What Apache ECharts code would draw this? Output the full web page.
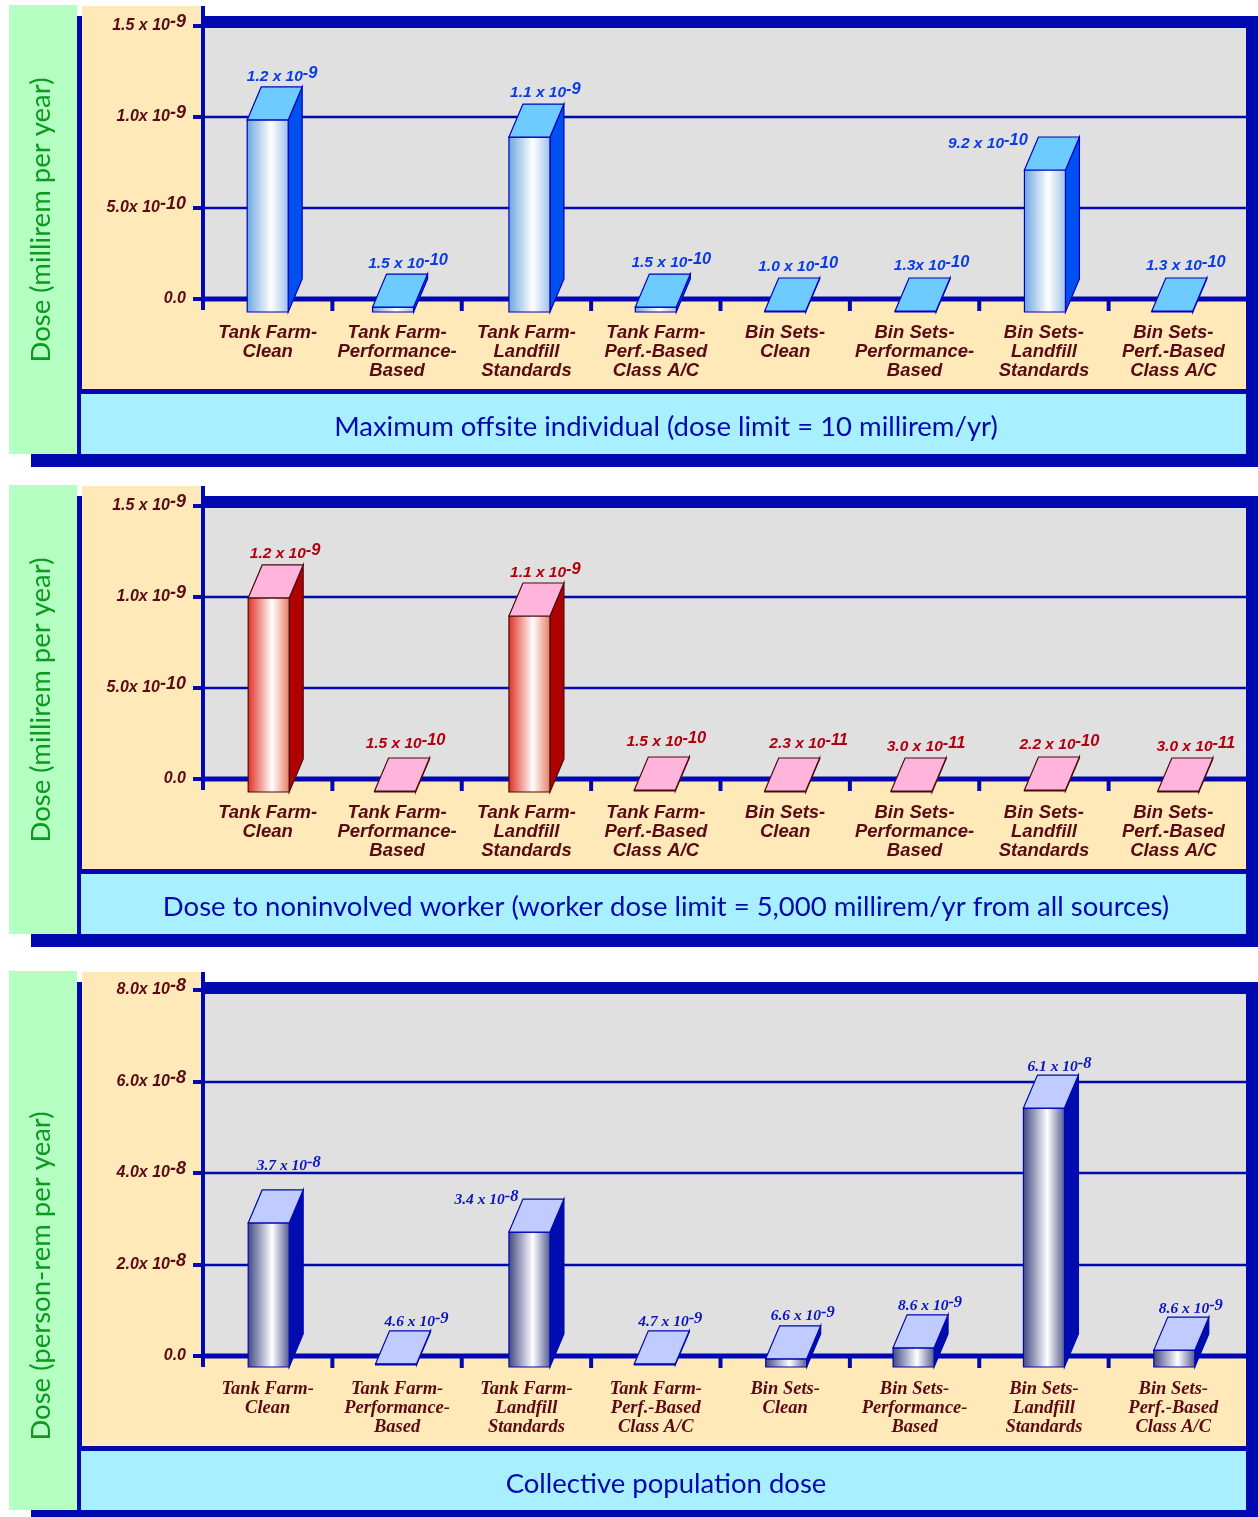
<!DOCTYPE html>
<html>
<head>
<meta charset="utf-8">
<style>
  html, body { margin: 0; padding: 0; background: #fff; }
  #chart { width: 1258px; height: 1517px; }
</style>
<script src="https://cdn.jsdelivr.net/npm/echarts@6/dist/echarts.min.js"></script>
</head>
<body>
<div id="chart"></div>
<script>
const categories = [
    'Tank Farm-\nClean', 'Tank Farm-\nPerformance-\nBased', 'Tank Farm-\nLandfill\nStandards', 'Tank Farm-\nPerf.-Based\nClass A/C',
    'Bin Sets-\nClean', 'Bin Sets-\nPerformance-\nBased', 'Bin Sets-\nLandfill\nStandards', 'Bin Sets-\nPerf.-Based\nClass A/C',
];

// bar heights as drawn, in axis units (1e-9, 1e-9, 1e-8)
const heights1 = [1.165, 0.137, 1.071, 0.137, 0.104, 0.115, 0.89, 0.115];
const heights2 = [1.176, 0.115, 1.077, 0.121, 0.115, 0.11, 0.121, 0.11];
const heights3 = [3.63, 0.55, 3.43, 0.55, 0.66, 0.9, 6.14, 0.85];

// printed value labels, ^ starts the exponent
const labels1 = ['1.2 x 10^-9', '1.5 x 10^-10', '1.1 x 10^-9', '1.5 x 10^-10', '1.0 x 10^-10', '1.3x 10^-10', '9.2 x 10^-10', '1.3 x 10^-10'];
const labels2 = ['1.2 x 10^-9', '1.5 x 10^-10', '1.1 x 10^-9', '1.5 x 10^-10', '2.3 x 10^-11', '3.0 x 10^-11', '2.2 x 10^-10', '3.0 x 10^-11'];
const labels3 = ['3.7 x 10^-8', '4.6 x 10^-9', '3.4 x 10^-8', '4.7 x 10^-9', '6.6 x 10^-9', '8.6 x 10^-9', '6.1 x 10^-8', '8.6 x 10^-9'];

const yTicks1 = ['0.0', '5.0x 10^-10', '1.0x 10^-9', '1.5 x 10^-9'];
const yTicks3 = ['0.0', '2.0x 10^-8', '4.0x 10^-8', '6.0x 10^-8', '8.0x 10^-8'];

const yName1 = 'Dose (millirem per year)';
const yName3 = 'Dose (person-rem per year)';
const title1 = 'Maximum offsite individual (dose limit = 10 millirem/yr)';
const title2 = 'Dose to noninvolved worker (worker dose limit = 5,000 millirem/yr from all sources)';
const title3 = 'Collective population dose';

const NAVY = '#0009b0';
const MAROON = '#5a0a12';
const SANS = '"Liberation Sans", Arial, sans-serif';
const SERIF = '"Liberation Serif", serif';
const HAND = 'Lato, "Noto Sans", sans-serif';

const panels = [
    {
        heights: heights1, labels: labels1, yTicks: yTicks1, yName: yName1, title: title1,
        top: 26, height: 273, max: 1.5, interval: 0.5, frameTop: 6, innerBottom: 394, bottom: 454, nameY: 220, titleY: 426,
        font: SANS, catSize: 18.5, valueSize: 15.5, valueColor: '#0a3ce6', drop: 13,
        shade: ['#6aa6e0', '#ffffff', '#9cc0ea'], topFill: '#6ecbff', sideFill: '#0050f0', edge: '#0000c0',
        nudge: [0, -4, 3, 0, 0, 1, 1, -1],
        labelDx: [14.5, 15, 16, 15.5, 13, 16, -57, 13.5],
        labelDy: [-13, -13, -14, -14, -14, -15, 4, -15],
    },
    {
        heights: heights2, labels: labels2, yTicks: yTicks1, yName: yName1, title: title2,
        top: 506, height: 273, max: 1.5, interval: 0.5, frameTop: 486, innerBottom: 874, bottom: 934, nameY: 700, titleY: 906,
        font: SANS, catSize: 18.5, valueSize: 15.5, valueColor: '#b00010', drop: 13,
        shade: ['#e02d20', '#ffffff', '#e67a60'], topFill: '#ffb4dc', sideFill: '#b00000', edge: '#4a0a10',
        nudge: [1, -2, 3, -1, 0, -3, 1, 5],
        labelDx: [16.5, 10.5, 16, 11.5, 23.5, 14.5, 14.5, 17.5],
        labelDy: [-14, -17, -13, -18, -17, -14, -15, -14],
    },
    {
        heights: heights3, labels: labels3, yTicks: yTicks3, yName: yName3, title: title3,
        top: 990, height: 366, max: 8, interval: 2, frameTop: 972, innerBottom: 1451, bottom: 1510, nameY: 1276, titleY: 1483,
        font: SERIF, catSize: 18.5, valueSize: 15.5, valueColor: '#0a14c0', drop: 11,
        shade: ['#3e4680', '#ffffff', '#50588f'], topFill: '#c0ccff', sideFill: '#000cb0', edge: '#0009b0',
        nudge: [1, -1, 3, -1, 1, -1, 0, 1],
        labelDx: [20, 20.5, -43, 15.5, 16.5, 16.5, 15.5, 16.5],
        labelDy: [-27, -12, -2, -12, -13, -12, -11, -11],
    },
];

const DEPTH_X = 14;
const DEPTH_Y = 33;
const BAR_W = 41;

function richText(text) {
    const parts = text.split('^');
    return parts.length > 1 ? '{b|' + parts[0] + '}{s|' + parts[1] + '}' : '{b|' + parts[0] + '}';
}

function richStyles(font, size, supSize, color) {
    const base = { fontFamily: font, fontStyle: 'italic', fontWeight: 'bold', color: color, fill: color };
    return {
        b: { ...base, fontSize: size },
        s: { ...base, fontSize: supSize, padding: [0, 0, 7, 0] },
    };
}

const renderBar = (panel) => (params, api) => {
    const i = api.value(0);
    const cx = api.coord([i, 0])[0] + panel.nudge[i];
    const axisY = api.coord([i, 0])[1];
    const left = cx - BAR_W / 2;
    const right = left + BAR_W;
    let backTop = api.coord([i, api.value(1)])[1];
    let frontBottom = axisY + panel.drop;
    let frontTop = backTop + DEPTH_Y;
    if (frontBottom - frontTop < 1) {
        frontTop = frontBottom - 1;
        backTop = frontTop - DEPTH_Y;
    } else if (frontBottom - frontTop < 4) {
        frontBottom = frontTop + 1; // thin plates sit a little higher
    }
    const line = { stroke: panel.edge, lineWidth: 1.2 };
    return {
        type: 'group',
        children: [
            {
                type: 'polygon',
                shape: { points: [[right, frontTop], [right + DEPTH_X, backTop], [right + DEPTH_X, Math.max(backTop, frontBottom - DEPTH_Y)], [right, frontBottom]] },
                style: { fill: panel.sideFill, ...line },
            },
            {
                type: 'rect',
                shape: { x: left, y: frontTop, width: BAR_W, height: frontBottom - frontTop },
                style: {
                    fill: new echarts.graphic.LinearGradient(0, 0, 1, 0, [
                        { offset: 0, color: panel.shade[0] },
                        { offset: 0.58, color: panel.shade[1] },
                        { offset: 1, color: panel.shade[2] },
                    ]),
                    ...line,
                },
            },
            {
                type: 'polygon',
                shape: { points: [[left, frontTop], [left + DEPTH_X, backTop], [right + DEPTH_X, backTop], [right, frontTop]] },
                style: { fill: panel.topFill, ...line },
            },
            {
                type: 'text',
                style: {
                    text: richText(panel.labels[i]),
                    rich: richStyles(panel.font, panel.valueSize, panel.valueSize + 1, panel.valueColor),
                    x: cx + panel.labelDx[i],
                    y: backTop + panel.labelDy[i] + 3,
                    align: 'center',
                    verticalAlign: 'middle',
                },
            },
        ],
    };
};

// category dividers hang under the axis, none after the last bar
const renderDivider = (params, api) => {
    const i = api.value(0);
    const band = api.size([1, 0])[0];
    const p = api.coord([i, 0]);
    return { type: 'rect', shape: { x: p[0] + band / 2 - 2, y: p[1], width: 4, height: 12 }, style: { fill: NAVY } };
};

// the grey wall runs a little past the last category, so the lines are drawn here and not as splitLine
const renderGridLine = (params, api) => {
    const y = Math.round(api.coord([0, api.value(1)])[1]);
    const thick = api.value(1) === 0 ? 5 : 2.5;
    return {
        type: 'rect',
        shape: { x: params.coordSys.x, y: y - thick / 2, width: params.coordSys.width + 9, height: thick },
        style: { fill: NAVY },
    };
};

const graphic = [];
const rect = (x, y, width, height, fill, z) => graphic.push({ type: 'rect', z: z, shape: { x, y, width, height }, style: { fill } });

panels.forEach((p) => {
    const barTop = p.frameTop + 10;
    const axisY = p.top + p.height;
    rect(31, p.bottom - 1, 1227, 14, NAVY, -2);
    rect(9, p.frameTop - 1, 68, p.bottom - p.frameTop + 1, '#b6ffc2', -1);
    rect(77, barTop, 5, p.bottom - barTop + 1, NAVY, -1);
    rect(82, p.frameTop, 121, barTop - p.frameTop, '#ffe9b8', -1);
    rect(82, barTop, 1164, p.innerBottom - barTop, '#ffe9b8', -1);
    rect(203, barTop, 1043, axisY - barTop, '#e0e0e0', -1);
    rect(203, barTop, 1055, 12, NAVY, 5);
    rect(1246, barTop, 12, p.bottom - barTop, NAVY, 5);
    rect(201, p.frameTop, 4, axisY + 11 - p.frameTop, NAVY, 5);
    rect(81, p.innerBottom - 5, 1165, 5, NAVY, -1);
    rect(81, p.innerBottom, 1165, p.bottom - p.innerBottom, '#a8f0ff', -1);
    graphic.push({
        type: 'text', z: 6, x: 41, y: p.nameY, rotation: Math.PI / 2,
        style: { text: p.yName, fontFamily: HAND, fontSize: 27.5, fill: '#0a9a1e', align: 'center', verticalAlign: 'middle' },
    });
});

const chart = echarts.init(document.getElementById('chart'), null, { renderer: 'canvas' });

chart.setOption({
    animation: false,
    backgroundColor: '#fff',
    graphic: graphic,
    title: panels.map((p) => ({
        text: p.title, left: 661, top: p.titleY - 18, textAlign: 'center',
        textStyle: { fontFamily: HAND, fontWeight: 'normal', fontSize: 27.5, color: NAVY },
    })),
    grid: panels.map((p) => ({ left: 203, top: p.top, width: 1035, height: p.height })),
    xAxis: panels.map((p, k) => ({
        type: 'category',
        gridIndex: k,
        data: categories,
        axisLine: { show: false },
        axisTick: { show: false },
        axisLabel: {
            interval: 0, margin: 24, lineHeight: 19, color: MAROON,
            fontFamily: p.font, fontStyle: 'italic', fontWeight: 'bold', fontSize: p.catSize,
        },
    })),
    yAxis: panels.map((p, k) => ({
        type: 'value',
        gridIndex: k,
        min: 0,
        max: p.max,
        interval: p.interval,
        axisLine: { show: false },
        axisTick: { show: true, length: 10, lineStyle: { color: NAVY, width: 4 } },
        splitLine: { show: false },
        axisLabel: {
            margin: 17,
            formatter: (value, index) => richText(p.yTicks[index]),
            rich: richStyles(SANS, 16, 18, MAROON),
        },
    })),
    series: panels.flatMap((p, k) => [
        {
            type: 'custom', xAxisIndex: k, yAxisIndex: k, silent: true, z: 1,
            renderItem: renderGridLine,
            data: p.yTicks.slice(0, -1).map((t, j) => [0, j * p.interval]),
        },
        {
            type: 'custom', xAxisIndex: k, yAxisIndex: k, silent: true, z: 1,
            renderItem: renderDivider,
            data: categories.slice(0, -1).map((c, i) => [i, 0]),
        },
        {
            type: 'custom', xAxisIndex: k, yAxisIndex: k, silent: true, z: 3,
            renderItem: renderBar(p),
            data: p.heights.map((h, i) => [i, h]),
        },
    ]),
});
</script>
</body>
</html>
